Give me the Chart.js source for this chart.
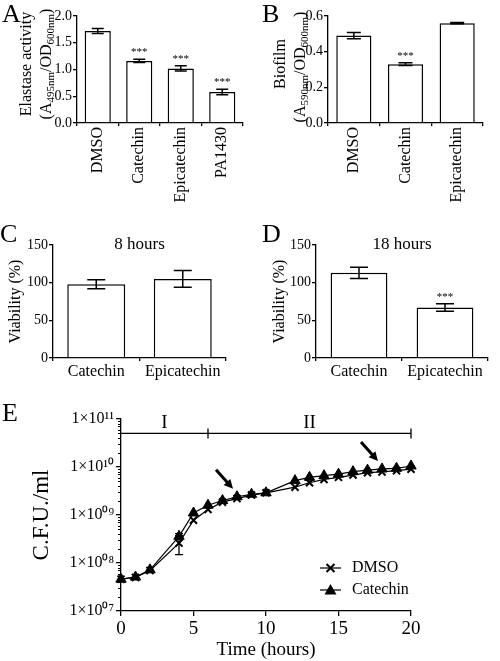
<!DOCTYPE html>
<html>
<head>
<meta charset="utf-8">
<script src="https://cdn.jsdelivr.net/npm/chart.js@4.4.0/dist/chart.umd.min.js"></script>
<style>
body { margin: 0; background: #fff; }
#fig { position: relative; width: 500px; height: 661px; font-family: "Liberation Serif", serif; }
canvas { position: absolute; }
.letter { position: absolute; font-size: 26px; line-height: 26px; color: #000; }
</style>
</head>
<body>
<div id="fig">
  <canvas id="chartA" width="250" height="215" style="left:0;top:0"></canvas>
  <canvas id="chartB" width="250" height="215" style="left:250px;top:0"></canvas>
  <canvas id="chartC" width="250" height="185" style="left:0;top:215px"></canvas>
  <canvas id="chartD" width="250" height="185" style="left:250px;top:215px"></canvas>
  <canvas id="chartE" width="500" height="266" style="left:0;top:395px"></canvas>
  <div class="letter" style="left:2px;top:1px">A</div>
  <div class="letter" style="left:262px;top:1px">B</div>
  <div class="letter" style="left:0px;top:221px">C</div>
  <div class="letter" style="left:262px;top:221px">D</div>
  <div class="letter" style="left:2px;top:400px">E</div>
</div>
<script>
// panel A - elastase
const catsA = ['DMSO', 'Catechin', 'Epicatechin', 'PA1430'];
const elastase = [1.72, 1.16, 1.02, 0.58];
const elastaseErr = [0.045, 0.03, 0.05, 0.05];
const elastaseSig = ['', '***', '***', '***'];
const ticksA = [0, 0.5, 1.0, 1.5, 2.0];

// panel B - biofilm
const catsB = ['DMSO', 'Catechin', 'Epicatechin'];
const biofilm = [0.49, 0.33, 0.56];
const biofilmErr = [0.018, 0.008, 0.004];
const biofilmSig = ['', '***', ''];
const ticksB = [0, 0.2, 0.4, 0.6];

// panels C, D - viability
const catsViab = ['Catechin', 'Epicatechin'];
const viab8 = [98, 105];
const viab8Err = [6, 11];
const viab8Sig = ['', ''];
const viab18 = [113, 67];
const viab18Err = [7.5, 5];
const viab18Sig = ['', '***'];
const ticksViab = [0, 50, 100, 150];

// panel E - growth curve
const hours = [0, 1, 2, 4, 5, 6, 7, 8, 9, 10, 12, 13, 14, 15, 16, 17, 18, 19, 20];
const cfuDMSO = [4.6e7, 5.0e7, 7.0e7, 2.6e8, 7.8e8, 1.3e9, 1.85e9, 2.2e9, 2.6e9, 2.9e9, 3.8e9, 4.7e9, 5.5e9, 6.1e9, 6.8e9, 7.6e9, 7.9e9, 8.4e9, 9.0e9];
const cfuDMSOErr = [0, 0, 0, 1.1e8, 0, 0, 0, 0, 0, 0, 0, 0, 0, 0, 0, 0, 0, 0, 0];
const cfuCatechin = [4.6e7, 5.1e7, 7.2e7, 3.6e8, 1.1e9, 1.6e9, 2.0e9, 2.4e9, 2.7e9, 2.9e9, 5.2e9, 6.1e9, 6.6e9, 7.1e9, 8.0e9, 8.6e9, 9.1e9, 9.4e9, 1.05e10];
const cfuCatechinErr = [0, 0, 0, 5e7, 0, 0, 0, 0, 0, 0, 0, 0, 0, 0, 0, 0, 0, 0, 0];
const timeTicks = [0, 5, 10, 15, 20];
const cfuTicks = [1e7, 1e8, 1e9, 1e10, 1e11];
const phaseEdges = [0, 6, 20];
const phaseNames = ['I', 'II'];
const phaseLevel = 5e10;
const arrowHours = [8, 18];

const serif = '"Liberation Serif", "Times New Roman", serif';
Chart.defaults.font.family = serif;
Chart.defaults.color = '#000';

const errorBars = {
    id: 'errorBars',
    afterDatasetsDraw(chart, args, opts) {
        const ctx = chart.ctx;
        const yScale = chart.scales.y;
        chart.data.datasets.forEach((ds, di) => {
            if (!ds.errors) return;
            const meta = chart.getDatasetMeta(di);
            meta.data.forEach((el, i) => {
                const raw = ds.data[i];
                const val = typeof raw === 'object' ? raw.y : raw;
                const e = ds.errors[i];
                const top = yScale.getPixelForValue(val + e);
                ctx.save();
                if (e) {
                    const bot = yScale.getPixelForValue(val - e);
                    ctx.strokeStyle = '#000';
                    ctx.lineWidth = opts.lineWidth || 1.5;
                    ctx.beginPath();
                    ctx.moveTo(el.x, top); ctx.lineTo(el.x, bot);
                    ctx.moveTo(el.x - opts.cap, top); ctx.lineTo(el.x + opts.cap, top);
                    ctx.moveTo(el.x - opts.cap, bot); ctx.lineTo(el.x + opts.cap, bot);
                    ctx.stroke();
                }
                if (ds.stars && ds.stars[i]) {
                    ctx.fillStyle = '#000';
                    ctx.font = '11px ' + serif;
                    ctx.textAlign = 'center';
                    ctx.textBaseline = 'alphabetic';
                    ctx.fillText(ds.stars[i], el.x, top - 4);
                }
                ctx.restore();
            });
        });
    }
};

// rotated axis titles with subscripts
const sideTitle = {
    id: 'sideTitle',
    afterDraw(chart, args, opts) {
        if (!opts.lines) return;
        const ctx = chart.ctx;
        const main = opts.size + 'px ' + serif;
        const sub = opts.subSize + 'px ' + serif;
        opts.lines.forEach(line => {
            ctx.save();
            ctx.translate(line.x, line.y);
            ctx.rotate(-Math.PI / 2);
            ctx.fillStyle = '#000';
            ctx.textBaseline = 'alphabetic';
            ctx.textAlign = 'left';
            let w = 0;
            line.parts.forEach(p => { ctx.font = p[1] ? sub : main; w += ctx.measureText(p[0]).width; });
            let cx = -w / 2;
            line.parts.forEach(p => {
                ctx.font = p[1] ? sub : main;
                ctx.fillText(p[0], cx, p[1] ? 9 : 5.5);
                cx += ctx.measureText(p[0]).width;
            });
            ctx.restore();
        });
    }
};

const topLabel = {
    id: 'topLabel',
    afterDraw(chart, args, opts) {
        if (!opts.text) return;
        const ctx = chart.ctx;
        const a = chart.chartArea;
        ctx.save();
        ctx.fillStyle = '#000';
        ctx.font = '17px ' + serif;
        ctx.textAlign = 'center';
        ctx.textBaseline = 'alphabetic';
        ctx.fillText(opts.text, (a.left + a.right) / 2, a.top + 4);
        ctx.restore();
    }
};

function barPanel(id, labels, values, errors, stars, yTicks, fmt, box, extra) {
    const canvas = document.getElementById(id);
    const opts = {
        responsive: false,
        animation: false,
        layout: { autoPadding: false, padding: { left: 0, top: box.top, right: canvas.width - box.right, bottom: 0 } },
        plugins: {
            legend: { display: false },
            tooltip: { enabled: false },
            errorBars: { cap: extra.cap },
            sideTitle: extra.sideTitle || {},
            topLabel: { text: extra.topText }
        },
        scales: {
            x: {
                afterFit: s => { s.height = canvas.height - box.bottom; },
                grid: { display: true, drawOnChartArea: false, tickLength: 3, color: '#000', lineWidth: 1.3 },
                border: { color: '#000', width: 1.3 },
                ticks: { color: '#000', font: { size: extra.labelSize }, padding: 1, minRotation: extra.rot, maxRotation: extra.rot }
            },
            y: {
                min: yTicks[0],
                max: yTicks[yTicks.length - 1],
                afterFit: s => { s.width = box.left; },
                afterBuildTicks: s => { s.ticks = yTicks.map(v => ({ value: v })); },
                grid: { display: true, drawOnChartArea: false, tickLength: 4, color: '#000', lineWidth: 1.3 },
                border: { color: '#000', width: 1.3 },
                ticks: { color: '#000', font: { size: 14 }, padding: 1, callback: fmt },
                title: extra.yTitle ? { display: true, text: extra.yTitle, font: { size: 16 }, padding: { top: extra.yTitlePad, bottom: 0 } } : { display: false }
            }
        }
    };
    return new Chart(canvas, {
        type: 'bar',
        data: {
            labels: labels,
            datasets: [{
                data: values,
                errors: errors,
                stars: stars,
                backgroundColor: '#fff',
                borderColor: '#000',
                borderWidth: 1.5,
                borderSkipped: 'bottom',
                barPercentage: extra.barPct,
                categoryPercentage: 1
            }]
        },
        options: opts,
        plugins: [errorBars, sideTitle, topLabel]
    });
}

barPanel('chartA', catsA, elastase, elastaseErr, elastaseSig, ticksA, v => v.toFixed(1),
    { left: 77, right: 243, top: 16, bottom: 123 },
    { cap: 6, barPct: 0.63, labelSize: 16, rot: 90,
      sideTitle: { size: 16, subSize: 11, lines: [
          { x: 25, y: 64, parts: [['Elastase activity', 0]] },
          { x: 45, y: 64, parts: [['(A', 0], ['495nm', 1], ['/OD', 0], ['600nm', 1], [')', 0]] }
      ] } });

barPanel('chartB', catsB, biofilm, biofilmErr, biofilmSig, ticksB, v => v.toFixed(1),
    { left: 78, right: 233, top: 16, bottom: 123 },
    { cap: 7, barPct: 0.68, labelSize: 16, rot: 90,
      sideTitle: { size: 16, subSize: 11, lines: [
          { x: 29, y: 64, parts: [['Biofilm', 0]] },
          { x: 49, y: 67, parts: [['(A', 0], ['590nm', 1], ['/OD', 0], ['600nm', 1], [')', 0]] }
      ] } });

barPanel('chartC', catsViab, viab8, viab8Err, viab8Sig, ticksViab, v => String(v),
    { left: 53, right: 226, top: 30, bottom: 143 },
    { cap: 9, barPct: 0.67, labelSize: 16, rot: 0, yTitle: 'Viability (%)', yTitlePad: 6, topText: '8 hours' });

barPanel('chartD', catsViab, viab18, viab18Err, viab18Sig, ticksViab, v => String(v),
    { left: 66, right: 238, top: 30, bottom: 143 },
    { cap: 9, barPct: 0.66, labelSize: 16, rot: 0, yTitle: 'Viability (%)', yTitlePad: 20, topText: '18 hours' });

// growth curve extras
const supDigits = '⁰¹²³⁴⁵⁶⁷⁸⁹';
function supText(n) {
    return String(n).padStart(2, '0').split('').map(d => supDigits[+d]).join('');
}

const minorTicks = {
    id: 'minorTicks',
    afterDraw(chart) {
        const ctx = chart.ctx;
        const y = chart.scales.y;
        const x0 = chart.chartArea.left;
        ctx.save();
        ctx.strokeStyle = '#000';
        ctx.lineWidth = 1;
        ctx.beginPath();
        for (let d = 7; d < 11; d++) {
            for (let k = 2; k <= 9; k++) {
                const py = Math.round(y.getPixelForValue(k * Math.pow(10, d))) + 0.5;
                ctx.moveTo(x0 - 3, py);
                ctx.lineTo(x0, py);
            }
        }
        ctx.stroke();
        ctx.restore();
    }
};

const phaseBar = {
    id: 'phaseBar',
    afterDraw(chart) {
        const ctx = chart.ctx;
        const x = chart.scales.x, y = chart.scales.y;
        const py = y.getPixelForValue(phaseLevel);
        ctx.save();
        ctx.strokeStyle = '#000';
        ctx.lineWidth = 1.3;
        ctx.beginPath();
        ctx.moveTo(x.getPixelForValue(phaseEdges[0]), py);
        ctx.lineTo(x.getPixelForValue(phaseEdges[phaseEdges.length - 1]), py);
        phaseEdges.slice(1).forEach(h => {
            const px = x.getPixelForValue(h);
            ctx.moveTo(px, py - 5); ctx.lineTo(px, py + 5);
        });
        ctx.stroke();
        ctx.fillStyle = '#000';
        ctx.font = '19px ' + serif;
        ctx.textAlign = 'center';
        ctx.textBaseline = 'alphabetic';
        phaseNames.forEach((name, i) => {
            const mid = (phaseEdges[i] + phaseEdges[i + 1]) / 2;
            ctx.fillText(name, x.getPixelForValue(mid), py - 5);
        });
        ctx.restore();
    }
};

const arrows = {
    id: 'arrows',
    afterDraw(chart) {
        const ctx = chart.ctx;
        const meta = chart.getDatasetMeta(1);
        ctx.save();
        ctx.strokeStyle = '#000';
        ctx.fillStyle = '#000';
        arrowHours.forEach(h => {
            const el = meta.data[hours.indexOf(h)];
            const tx = el.x - 4, ty = el.y - 8;
            const sx = el.x - 21, sy = el.y - 27;
            const ang = Math.atan2(ty - sy, tx - sx);
            ctx.lineWidth = 3;
            ctx.beginPath();
            ctx.moveTo(sx, sy);
            ctx.lineTo(tx - 6 * Math.cos(ang), ty - 6 * Math.sin(ang));
            ctx.stroke();
            ctx.beginPath();
            ctx.moveTo(tx, ty);
            ctx.lineTo(tx - 9 * Math.cos(ang) + 4.5 * Math.sin(ang), ty - 9 * Math.sin(ang) - 4.5 * Math.cos(ang));
            ctx.lineTo(tx - 9 * Math.cos(ang) - 4.5 * Math.sin(ang), ty - 9 * Math.sin(ang) + 4.5 * Math.cos(ang));
            ctx.closePath();
            ctx.fill();
        });
        ctx.restore();
    }
};

const cornerLegend = {
    id: 'cornerLegend',
    afterDraw(chart) {
        const ctx = chart.ctx;
        const rows = [173, 195];
        ctx.save();
        ctx.strokeStyle = '#000';
        ctx.fillStyle = '#000';
        chart.data.datasets.forEach((ds, i) => {
            const y = rows[i];
            ctx.lineWidth = 1.2;
            ctx.beginPath();
            ctx.moveTo(320, y); ctx.lineTo(341, y);
            ctx.stroke();
            const cx = 330.5;
            if (ds.pointStyle === 'crossRot') {
                ctx.lineWidth = 2;
                ctx.beginPath();
                ctx.moveTo(cx - 4, y - 4); ctx.lineTo(cx + 4, y + 4);
                ctx.moveTo(cx - 4, y + 4); ctx.lineTo(cx + 4, y - 4);
                ctx.stroke();
            } else {
                ctx.beginPath();
                ctx.moveTo(cx, y - 6); ctx.lineTo(cx + 6, y + 4.5); ctx.lineTo(cx - 6, y + 4.5);
                ctx.closePath();
                ctx.fill();
            }
            ctx.font = '16px ' + serif;
            ctx.textAlign = 'left';
            ctx.textBaseline = 'middle';
            ctx.fillText(ds.label, 352, y);
        });
        ctx.restore();
    }
};

const canvasE = document.getElementById('chartE');
new Chart(canvasE, {
    type: 'line',
    data: {
        datasets: [
            {
                label: 'DMSO',
                data: hours.map((h, i) => ({ x: h, y: cfuDMSO[i] })),
                errors: cfuDMSOErr,
                borderColor: '#000',
                borderWidth: 1.2,
                pointStyle: 'crossRot',
                pointRadius: 5,
                pointBorderWidth: 2,
                pointBorderColor: '#000',
                clip: false
            },
            {
                label: 'Catechin',
                data: hours.map((h, i) => ({ x: h, y: cfuCatechin[i] })),
                errors: cfuCatechinErr,
                borderColor: '#000',
                borderWidth: 1.2,
                pointStyle: 'triangle',
                pointRadius: 6,
                pointBorderWidth: 1,
                pointBackgroundColor: '#000',
                pointBorderColor: '#000',
                clip: false
            }
        ]
    },
    options: {
        responsive: false,
        animation: false,
        layout: { autoPadding: false, padding: { left: 0, top: 24, right: 89, bottom: 0 } },
        plugins: {
            legend: { display: false },
            tooltip: { enabled: false },
            errorBars: { cap: 4, lineWidth: 1.3 }
        },
        scales: {
            x: {
                type: 'linear',
                min: 0,
                max: 20,
                afterFit: s => { s.height = 50; },
                afterBuildTicks: s => { s.ticks = timeTicks.map(v => ({ value: v })); },
                grid: { display: true, drawOnChartArea: false, tickLength: 5, color: '#000', lineWidth: 1.3 },
                border: { color: '#000', width: 1.3 },
                ticks: { color: '#000', font: { size: 19 }, padding: 2 },
                title: { display: true, text: 'Time (hours)', font: { size: 19 }, padding: 0 }
            },
            y: {
                type: 'logarithmic',
                min: 1e7,
                max: 1e11,
                afterFit: s => { s.width = 121; },
                afterBuildTicks: s => { s.ticks = cfuTicks.map(v => ({ value: v })); },
                grid: { display: true, drawOnChartArea: false, tickLength: 5, color: '#000', lineWidth: 1.3 },
                border: { color: '#000', width: 1.3 },
                ticks: { color: '#000', font: { size: 16 }, padding: 2, callback: v => '1×10' + supText(Math.round(Math.log10(v))) },
                title: { display: true, text: 'C.F.U./ml', font: { size: 23 }, padding: { top: 28, bottom: 0 } }
            }
        }
    },
    plugins: [errorBars, minorTicks, phaseBar, arrows, cornerLegend]
});
</script>
</body>
</html>
